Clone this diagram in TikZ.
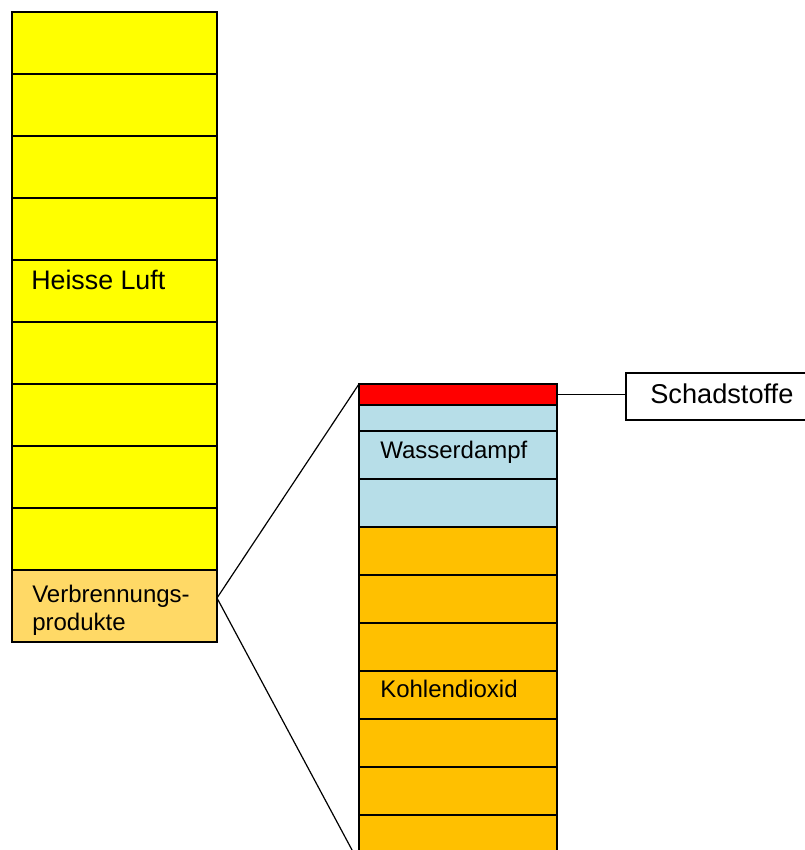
\documentclass[tikz,border=0pt]{standalone}
\usepackage{fontspec}
\setmainfont{Liberation Sans}
\definecolor{luftyellow}{RGB}{255,255,0}
\definecolor{produktorange}{RGB}{255,217,102}
\definecolor{dampfblue}{RGB}{183,222,232}
\definecolor{kohleorange}{RGB}{255,192,0}
\definecolor{schadred}{RGB}{255,0,0}

\begin{document}
\begin{tikzpicture}[x=0.75pt,y=-0.75pt,
  layer/.style={draw=black,line width=0.9pt,inner sep=0pt,outer sep=0pt,anchor=north west},
  luft/.style={layer,fill=luftyellow,minimum width=153.75pt,minimum height=46.5pt},
  gas/.style={layer,minimum width=148.5pt,minimum height=#1},
  lbl/.style={inner sep=0pt,anchor=base west,font=\fontsize{18}{21}\selectfont}]
  \useasboundingbox (0,0) rectangle (805,850);
  \clip (0,0) rectangle (805,850);
  % linke Saeule
  \foreach \i in {0,...,8}
    \node[luft] (luft\i) at (12,{12+62*\i}) {};
  \node[layer,fill=produktorange,minimum width=153.75pt,minimum height=54pt] (prod) at (12,570) {};
  % rechte Saeule
  \node[gas=15.75pt,fill=schadred] (schad) at (359,384) {};
  \node[gas=19.5pt,fill=dampfblue] (dampf0) at (359,405) {};
  \node[gas=36pt,fill=dampfblue] (dampf1) at (359,431) {};
  \node[gas=36pt,fill=dampfblue] (dampf2) at (359,479) {};
  \foreach \i in {0,...,6}
    \node[gas=36pt,fill=kohleorange] (kohle\i) at (359,{527+48*\i}) {};
  \node[layer,minimum width=165pt,minimum height=35.25pt] (schadbox) at (626,373) {};
  % Verbindungen
  \coordinate (apex) at ([yshift=6pt]prod.east);
  \draw[line width=0.9pt] (apex) -- (schad.north west);
  \draw[line width=0.9pt] (apex) -- (kohle6.south west);
  \draw[line width=0.9pt] (schad.east) -- (schad.east -| schadbox.west);
  % Beschriftung
  \node[lbl,font=\fontsize{20.1}{23}\selectfont] (heisse) at (31,289) {Heisse Luft};
  \node[lbl] (verb1) at (32,602) {Verbrennungs-};
  \node[lbl] (verb2) at (32,630) {produkte};
  \node[lbl] (dampf) at (380,458) {Wasserdampf};
  \node[lbl] (kohle) at (380,697) {Kohlendioxid};
  \node[lbl,font=\fontsize{20.4}{24}\selectfont] (schadtext) at (650,403) {Schadstoffe};
\end{tikzpicture}
\end{document}
